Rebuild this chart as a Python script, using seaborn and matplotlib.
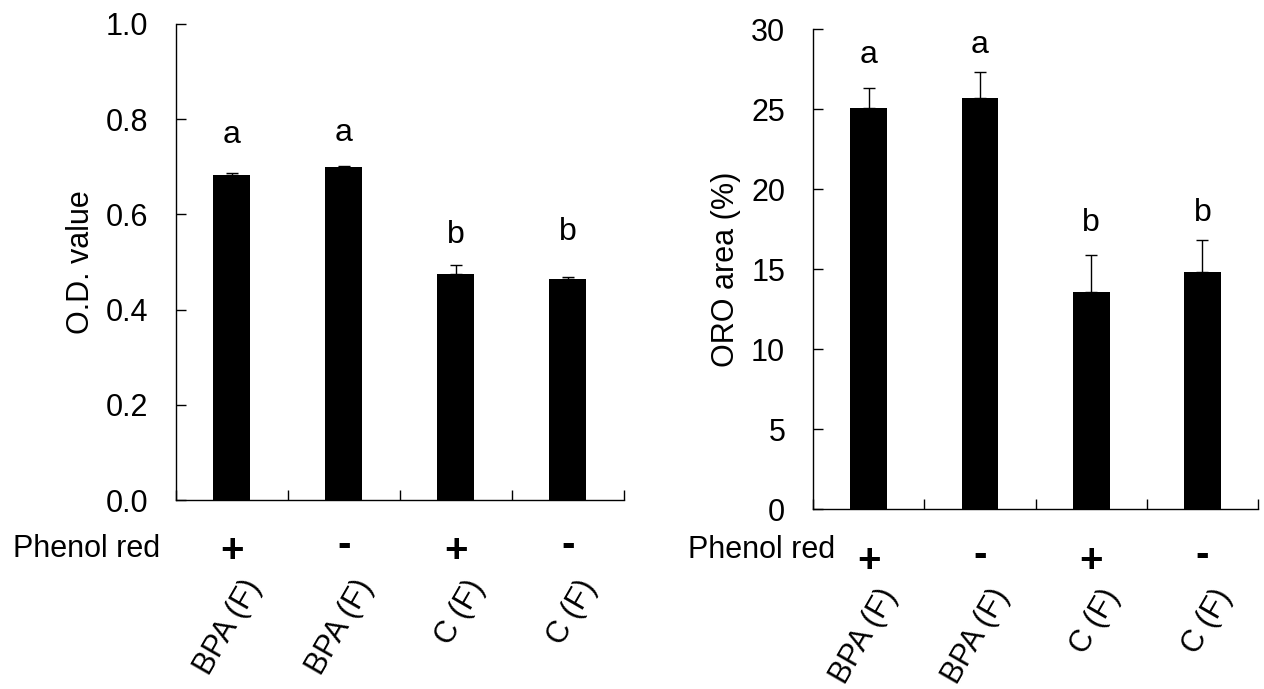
import numpy as np
import pandas as pd
import matplotlib
matplotlib.use("Agg")
import matplotlib.pyplot as plt
import seaborn as sns

# values
categories = ["BPA (F)", "BPA (F)", "C (F)", "C (F)"]
phenol_red = ["+", "-", "+", "-"]

od_mean = [0.682, 0.700, 0.474, 0.465]
od_err = [0.004, 0.002, 0.019, 0.004]
od_letters = ["a", "a", "b", "b"]
od_letter_y = [0.750, 0.754, 0.540, 0.546]

oro_mean = [25.1, 25.7, 13.6, 14.8]
oro_err = [1.2, 1.6, 2.3, 2.0]
oro_letters = ["a", "a", "b", "b"]
oro_letter_y = [27.9, 28.5, 17.4, 18.0]

sns.set_theme(style="ticks")
plt.rcParams["font.family"] = ["Liberation Sans", "DejaVu Sans"]
plt.rcParams["axes.linewidth"] = 1.0

df = pd.DataFrame({
    "group": [f"{c} {p}{i}" for i, (c, p) in enumerate(zip(categories, phenol_red))],
    "od": od_mean,
    "oro": oro_mean,
})

fig = plt.figure(figsize=(12.64, 6.89), dpi=100)
ax1 = fig.add_axes([0.1392, 0.2743, 0.3544, 0.6912])
ax2 = fig.add_axes([0.6432, 0.2608, 0.3521, 0.6967])

FS = 22


def draw(ax, col, err, letters, letter_y, ylim, yticks, yfmt, ylabel,
         sign_off, phenol_x, phenol_off):
    sns.barplot(data=df, x="group", y=col, color="black", saturation=1,
                width=0.33, errorbar=None, edgecolor="black", linewidth=0, ax=ax)
    x = np.arange(len(df))
    ax.errorbar(x, df[col], yerr=[np.zeros(len(err)), err], fmt="none",
                ecolor="black", elinewidth=1, capsize=4.5, capthick=1)
    ax.set_xlim(-0.5, len(df) - 0.5)
    ax.set_ylim(*ylim)
    ax.set_yticks(yticks)
    ax.set_yticklabels([yfmt % v for v in yticks])
    ax.set_xticks(x)
    ax.set_xticks(np.arange(-0.5, len(df)), minor=True)
    ax.tick_params(axis="x", which="major", length=0, labelbottom=False)
    ax.tick_params(axis="x", which="minor", direction="in", length=7.2, width=1, color="black")
    ax.tick_params(axis="y", direction="in", length=7.2, width=1, pad=20,
                   labelsize=FS, color="black", labelcolor="black")
    ax.set_xlabel("")
    ax.set_ylabel(ylabel, fontsize=FS, labelpad=7, color="black")
    sns.despine(ax=ax)
    for s in ("left", "bottom"):
        ax.spines[s].set_color("black")
        ax.spines[s].set_linewidth(1)

    for i, (lt, ly) in enumerate(zip(letters, letter_y)):
        ax.text(i, ly, lt, ha="center", va="baseline", fontsize=23, color="black")

    for i, (cat, sign) in enumerate(zip(categories, phenol_red)):
        off = sign_off if sign == "+" else sign_off - 4.3
        ax.annotate(sign, xy=(i, 0), xycoords=("data", "axes fraction"),
                    xytext=(0, -off), textcoords="offset points",
                    ha="center", va="baseline", fontsize=29, fontweight="bold",
                    color="black", annotation_clip=False)
        ax.annotate(cat, xy=(i, 0), xycoords=("data", "axes fraction"),
                    xytext=(6.5, -53.5), textcoords="offset points",
                    ha="right", va="top", rotation=60, rotation_mode="anchor",
                    fontsize=FS, color="black", annotation_clip=False)

    ax.annotate("Phenol red", xy=(phenol_x, 0), xycoords=("data", "axes fraction"),
                xytext=(0, -phenol_off), textcoords="offset points",
                ha="right", va="baseline", fontsize=FS, color="black",
                annotation_clip=False)


draw(ax1, "od", od_err, od_letters, od_letter_y, (0, 1.0),
     [0, 0.2, 0.4, 0.6, 0.8, 1.0], "%.1f", "O.D. value",
     sign_off=44.5, phenol_x=-0.643, phenol_off=41.3)
draw(ax2, "oro", oro_err, oro_letters, oro_letter_y, (0, 30),
     [0, 5, 10, 15, 20, 25, 30], "%d", "ORO area (%)",
     sign_off=45, phenol_x=-0.305, phenol_off=35.3)

fig.savefig("out.png", dpi=100, facecolor="white")
